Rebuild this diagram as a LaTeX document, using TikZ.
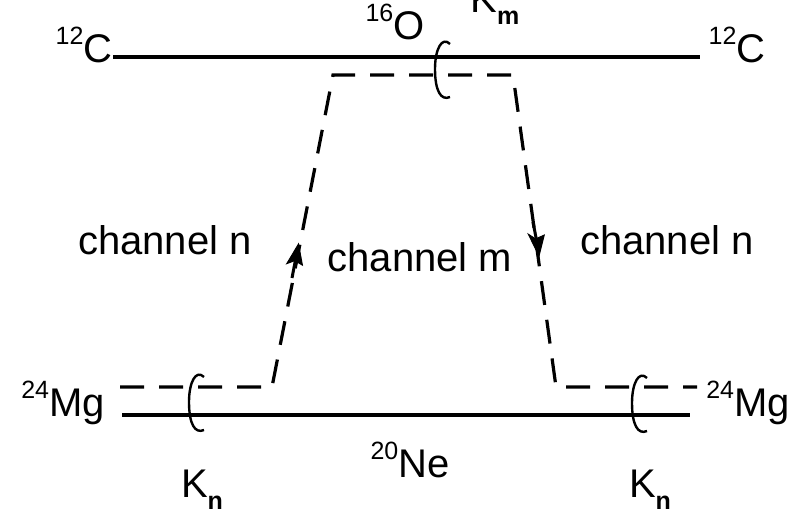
\documentclass[tikz,border=0pt]{standalone}
\usepackage{fontspec}
\setmainfont{Liberation Sans}
\newcommand\iso[2]{\raisebox{0.45em}{\fontsize{25}{25}\selectfont #1}#2}
\newcommand\ksub[1]{K\raisebox{-0.3em}{\fontsize{25}{25}\selectfont\bfseries #1}}
\tikzset{
  lvl/.style={line width=3.4pt},
  dashlvl/.style={line width=3.2pt, dash pattern=on 24pt off 15pt},
  lbl/.style={font=\fontsize{40}{44}\selectfont, inner sep=0pt},
  ring/.style={line width=2.4pt},
  arrhead/.style={fill=black, draw=black, line width=1pt, line join=miter}
}
\begin{document}
\begin{tikzpicture}[x=1pt,y=-1pt]
\useasboundingbox[fill=white] (0,0) rectangle (794,522);
% coordinates
\coordinate (tl) at (113,57);
\coordinate (tr) at (700,57);
\coordinate (bl) at (122,415);
\coordinate (br) at (690,415);
\coordinate (dtl) at (333,75);
\coordinate (dtr) at (513,75);
\coordinate (dbl) at (272,387);
\coordinate (dbr) at (556,387);
\coordinate (dl) at (120,387);
\coordinate (dr) at (697,387);
% levels
\draw[lvl] (tl) -- (tr);
\draw[lvl] (bl) -- (br);
% dashed path
\draw[dashlvl] (dl) -- (dbl) -- (dtl) -- (dtr) -- (dbr) -- (dr);
% arrow shafts and heads
\coordinate (a1s) at (292,278);
\coordinate (a1e) at (298.5,244);
\coordinate (a2s) at (533,222);
\coordinate (a2e) at (539,256);
\draw[line width=3pt] (a1s) -- ([shift={(-1.5,8)}]a1e);
\draw[line width=3pt] (a2s) -- ([shift={(-1,-8)}]a2e);
\draw[arrhead] (a1e) -- ++(3.9,21.1) -- ++(-7.6,-4.5) -- ++(-8.0,3.0) -- cycle;
\draw[arrhead] (a2e) -- ++(5.2,-20.9) -- ++(-8.6,3.8) -- ++(-7.2,-4.6) -- cycle;
% rings
\foreach \x/\y/\n in {443/69/r1, 197/402/r2, 640/403/r3}{
  \coordinate (\n) at (\x,\y);
  \draw[ring] ([shift={(7,-25)}]\n) .. controls ([shift={(-1,-33)}]\n) and ([shift={(-8,-20)}]\n) .. ([shift={(-8,0)}]\n)
     .. controls ([shift={(-8,22)}]\n) and ([shift={(-2,32)}]\n) .. ([shift={(7,28)}]\n);
}
% labels
\node[lbl] (c12l) at (84,45) {\iso{12}{C}};
\node[lbl] (c12r) at (737,45) {\iso{12}{C}};
\node[lbl] (o16) at (395,22) {\iso{16}{O}};
\node[lbl] (km) at (495,5) {\ksub{m}};
\node[lbl] (chnl) at (165,240) {channel n};
\node[lbl] (chnr) at (667,240) {channel n};
\node[lbl] (chm) at (420,257) {channel m};
\node[lbl] (mgl) at (63,403) {\iso{24}{Mg}};
\node[lbl] (mgr) at (748,403) {\iso{24}{Mg}};
\node[lbl] (ne) at (410,460) {\iso{20}{Ne}};
\node[lbl] (knl) at (202,490) {\ksub{n}};
\node[lbl] (knr) at (650,490) {\ksub{n}};
\end{tikzpicture}
\end{document}
